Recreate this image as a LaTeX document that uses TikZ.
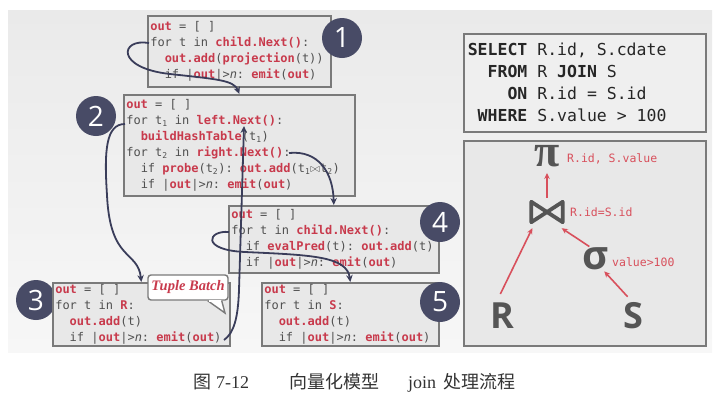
\documentclass[tikz,border=0pt]{standalone}
\usepackage{fontspec}
\usepackage{tikz}
\usetikzlibrary{arrows.meta,positioning,calc}
\setmainfont{Liberation Serif}
\setmonofont{DejaVu Sans Mono}
\newfontfamily\cjkfont{Noto Sans CJK SC}
\newfontfamily\numfont{Open Sans}
\definecolor{kwred}{HTML}{C83A4C}
\definecolor{lblred}{HTML}{D8505C}
\definecolor{codegray}{HTML}{505050}
\definecolor{boxline}{HTML}{7A7A7A}
\definecolor{boxfill}{HTML}{E8E8E8}
\definecolor{sqlfill}{HTML}{EFEFEF}
\definecolor{bgtop}{HTML}{EAEAEA}
\definecolor{bgbot}{HTML}{F7F7F7}
\definecolor{stepfill}{HTML}{484B66}
\definecolor{flowblue}{HTML}{3A3D5A}
\definecolor{symgray}{HTML}{555555}
\definecolor{captext}{HTML}{333333}
\newcommand{\monospaces}{\frenchspacing\spaceskip=\fontcharwd\font`x\relax\xspaceskip=\spaceskip}
\newcommand{\codefont}{\ttfamily\fontsize{12}{16}\selectfont}
\newcommand{\kw}[1]{\textcolor{kwred}{\bfseries #1}}
\newcommand{\ind}{\phantom{xx}}

\begin{document}
\begin{tikzpicture}[
  x=1pt,y=-1pt,
  >=Stealth,
  codebox/.style={draw=boxline,line width=1.6pt,fill=boxfill,anchor=north west,inner xsep=2.5pt,inner ysep=0pt,align=left,font=\codefont,text=codegray,execute at begin node=\monospaces},
  sqlbox/.style={draw=boxline,line width=1.6pt,fill=sqlfill,anchor=north west,inner xsep=4pt,inner ysep=0pt,align=left,font=\ttfamily\fontsize{16.5}{22}\selectfont,text=black!85,execute at begin node=\monospaces},
  stepnum/.style={circle,fill=stepfill,text=white,minimum size=40pt,inner sep=0pt,font=\numfont\fontsize{28}{28}\selectfont},
  batch/.style={draw=boxline,line width=1.4pt,fill=white,rounded corners=3pt,minimum width=80pt,minimum height=25pt,inner sep=2pt,text=kwred,font=\bfseries\itshape\fontsize{14.5}{14.5}\selectfont},
  flow/.style={draw=flowblue,line width=1.8pt,-{Stealth[length=7pt,width=6.5pt]}},
  tarrow/.style={draw=lblred,line width=1.6pt,-{Stealth[length=6pt,width=5.5pt]}},
  oplabel/.style={anchor=west,inner sep=0pt,text=lblred,font=\ttfamily\fontsize{11.5}{11.5}\selectfont,execute at begin node=\monospaces},
  rel/.style={inner sep=0pt,text=symgray,font=\numfont\bfseries\fontsize{36}{36}\selectfont},
]
\useasboundingbox (0,0) rectangle (720,413);
\fill[top color=bgtop,bottom color=bgbot] (8,10) rectangle (712,352);

% operator boxes
\node[stepnum] (n3) at (36,300) {3};
\node[codebox,text width=178pt,minimum height=71pt] (b1) at (147,15) {\kw{out} = [ ]\\
for t in \kw{child.Next()}:\\
\ind\kw{out.add}(\kw{projection}(t))\\
\ind if |\kw{out}|>\textit{n}: \kw{emit}(\kw{out})};
\node[codebox,text width=226pt,minimum height=101pt] (b2) at (123,94) {\kw{out} = [ ]\\
for t\textsubscript{1} in \kw{left.Next()}:\\
\ind\kw{buildHashTable}(t\textsubscript{1})\\
for t\textsubscript{2} in \kw{right.Next()}:\\
\ind if \kw{probe}(t\textsubscript{2}): \kw{out.add}(t\textsubscript{1}$\bowtie$t\textsubscript{2})\\
\ind if |\kw{out}|>\textit{n}: \kw{emit}(\kw{out})};
\node[codebox,text width=205pt,minimum height=67pt] (b4) at (228,205) {\kw{out} = [ ]\\
for t in \kw{child.Next()}:\\
\ind if \kw{evalPred}(t): \kw{out.add}(t)\\
\ind if |\kw{out}|>\textit{n}: \kw{emit}(\kw{out})};
\node[codebox,text width=172pt,minimum height=63pt] (b3) at (52,282) {\kw{out} = [ ]\\
for t in \kw{R}:\\
\ind\kw{out.add}(t)\\
\ind if |\kw{out}|>\textit{n}: \kw{emit}(\kw{out})};
\node[codebox,text width=172pt,minimum height=63pt] (b5) at (261,282) {\kw{out} = [ ]\\
for t in \kw{S}:\\
\ind\kw{out.add}(t)\\
\ind if |\kw{out}|>\textit{n}: \kw{emit}(\kw{out})};

\node[stepnum] (n1) at (342,38) {1};
\node[stepnum] (n2) at (96,116) {2};
\node[stepnum] (n4) at (440,222) {4};
\node[stepnum] (n5) at (440,302) {5};

% tuple batch callout
\node[batch] (tb) at (188,287.5) {Tuple Batch};
\coordinate (tbtip) at (225,313);
\filldraw[draw=boxline,fill=white,line width=1.4pt,line join=miter] ([xshift=-21pt]tb.south east) -- (tbtip) -- ([xshift=-7pt]tb.south east);
\draw[white,line width=2pt] ([xshift=-20pt]tb.south east) -- ([xshift=-8pt]tb.south east);

% control flow
\coordinate (f1) at (149,43);
\coordinate (f2) at (125,124);
\coordinate (f3) at (224,340);
\coordinate (t3) at (244,126);
\coordinate (f4) at (289,153);
\coordinate (f5) at (229,232);
\draw[flow] (f1) .. controls (120,38) and (115,68) .. (170,74) .. controls (215,79) and (234,80) .. (b2.north);
\draw[flow] (f2) .. controls (106,124) and (104,150) .. (107,195) .. controls (110,262) and (138,250) .. (b3.north);
\draw[flow] (f3) .. controls (234,333) and (238,318) .. (239,290) -- (t3);
\draw[flow] (f4) .. controls (318,150) and (333,172) .. (b4.north);
\draw[flow] (f5) .. controls (208,230) and (200,250) .. (245,252) .. controls (310,255) and (347,256) .. (b5.north);

% query and plan
\node[sqlbox,text width=234pt,minimum height=98pt] (sql) at (463,33) {\textbf{SELECT} R.id, S.cdate\\
\phantom{xx}\textbf{FROM} R \textbf{JOIN} S\\
\phantom{xxxx}\textbf{ON} R.id = S.id\\
\phantom{x}\textbf{WHERE} S.value > 100};
\node[draw=boxline,line width=1.6pt,fill=boxfill,anchor=north west,inner sep=0pt,minimum width=242pt,minimum height=205pt] (plan) at (463,140) {};

\node[inner sep=0pt,text=symgray,font=\rmfamily\bfseries\fontsize{46}{46}\selectfont] (pi) at (547,156) {π};
\node[inner sep=0pt,minimum width=31pt,minimum height=20pt] (join) at (547,212) {};
\draw[symgray,line width=3.8pt,line join=round] (join.north west) -- (join.south east) -- (join.north east) -- (join.south west) -- cycle;
\node[rel,font=\numfont\bfseries\fontsize{40}{40}\selectfont] (sigma) at (596,259) {σ};
\node[rel] (R) at (502,316) {R};
\node[rel] (S) at (633,316) {S};
\node[oplabel] (pil) at (567,159) {R.id, S.value};
\node[oplabel] (joinl) at (570,212) {R.id=S.id};
\node[oplabel] (sigl) at (612,262) {value>100};
\draw[tarrow,shorten <=4pt,shorten >=6pt] (join) -- (pi);
\draw[tarrow,shorten <=10pt] ([xshift=-6pt]R.north) -- ([xshift=1pt,yshift=-6pt]join.south west);
\draw[tarrow,shorten <=2pt] ([xshift=-5pt]sigma.north) -- ([xshift=-1pt,yshift=-6pt]join.south east);
\draw[tarrow,shorten <=8pt] (S.north) -- ([xshift=-5pt,yshift=-1pt]sigma.south east);

% caption
\node[anchor=west,inner sep=0pt,text=captext,font=\fontsize{18}{18}\selectfont] (cap) at (193,383) {{\cjkfont 图}\hspace{5pt}7-12\hspace{40pt}{\cjkfont 向量化模型}\hspace{29pt}join\hspace{7pt}{\cjkfont 处理流程}};
\end{tikzpicture}
\end{document}
